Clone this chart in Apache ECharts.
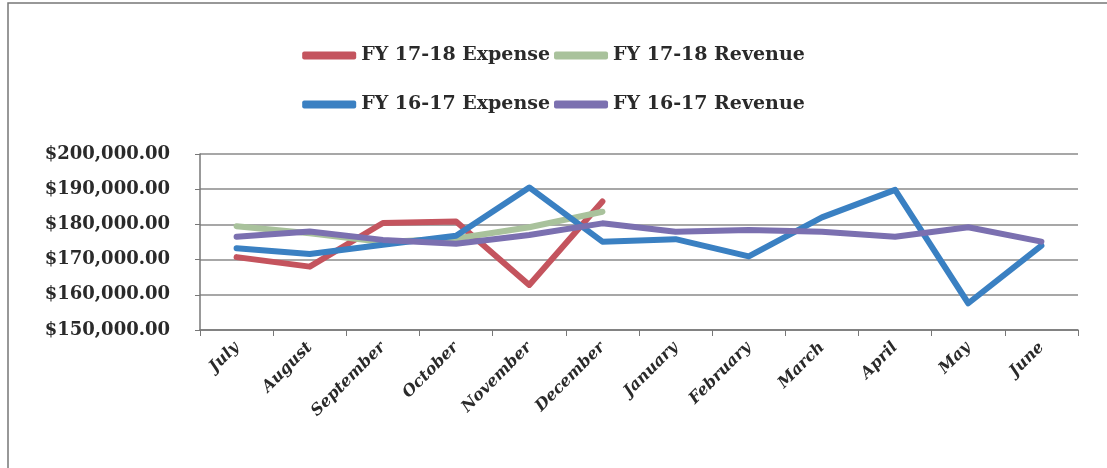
<!DOCTYPE html>
<html>
<head>
<meta charset="utf-8">
<script src="https://cdn.jsdelivr.net/npm/echarts@6/dist/echarts.min.js"></script>
<style>
html,body{margin:0;padding:0;background:#fff;}
#chart{width:1107px;height:468px;}
</style>
</head>
<body>
<div id="chart"></div>
<script>
const months = ['July','August','September','October','November','December','January','February','March','April','May','June'];
const fy1718Expense = [170700, 168000, 180400, 180800, 162800, 186500, null, null, null, null, null, null];
const fy1718Revenue = [179500, 177500, 175000, 176000, 179200, 183600, null, null, null, null, null, null];
const fy1617Expense = [173200, 171600, 174200, 176800, 190500, 175100, 175800, 170900, 182000, 189800, 157600, 174000];
const fy1617Revenue = [176500, 178000, 175600, 174500, 177000, 180300, 177900, 178400, 177900, 176500, 179200, 175100];
const seriesNames = ['FY 17-18 Expense','FY 17-18 Revenue','FY 16-17 Expense','FY 16-17 Revenue'];
const seriesColors = ['#c4545e','#a9c29c','#3a80c2','#7b70b0'];
const yMin = 150000, yMax = 200000, yStep = 10000;

const serif = 'DejaVu Serif';
const chart = echarts.init(document.getElementById('chart'));
const allData = [fy1718Expense, fy1718Revenue, fy1617Expense, fy1617Revenue];
const legendText = {fontFamily: serif, fontWeight: 'bold', fontSize: 19, color: '#2a2a2a'};
chart.setOption({
  animation: false,
  backgroundColor: '#fff',
  graphic: [{
    type: 'rect', shape: {x: 8, y: 3, width: 1120, height: 480},
    style: {fill: 'none', stroke: '#777', lineWidth: 1.5}, silent: true
  }],
  legend: [
    {data: seriesNames.slice(0, 2), top: 41, left: 'center', itemWidth: 54, itemHeight: 8, itemGap: 4, icon: 'roundRect', textStyle: legendText},
    {data: seriesNames.slice(2, 4), top: 90, left: 'center', itemWidth: 54, itemHeight: 8, itemGap: 4, icon: 'roundRect', textStyle: legendText}
  ],
  grid: {left: 200, right: 29, top: 154, bottom: 138},
  xAxis: {
    type: 'category', data: months, boundaryGap: true,
    axisLine: {lineStyle: {color: '#777', width: 1.5}},
    axisTick: {show: true, length: 6, lineStyle: {color: '#777'}},
    axisLabel: {rotate: 45, fontFamily: serif, fontStyle: 'italic', fontWeight: 'bold', fontSize: 16, color: '#2a2a2a', margin: 15}
  },
  yAxis: {
    type: 'value', min: yMin, max: yMax, interval: yStep,
    axisLine: {show: true, lineStyle: {color: '#777', width: 1.5}},
    axisTick: {show: true, length: 5, lineStyle: {color: '#777'}},
    splitLine: {lineStyle: {color: '#8a8a8a', width: 1.5}},
    axisLabel: {
      fontFamily: serif, fontWeight: 'bold', fontSize: 18, color: '#2a2a2a', margin: 30,
      formatter: v => '$' + v.toLocaleString('en-US', {minimumFractionDigits: 2, maximumFractionDigits: 2})
    }
  },
  series: seriesNames.map((n, i) => ({
    name: n, type: 'line', data: allData[i], symbol: 'none', connectNulls: false,
    color: seriesColors[i],
    lineStyle: {width: 6, color: seriesColors[i], cap: 'round', join: 'round'},
    z: 2 + i
  }))
});
</script>
</body>
</html>
